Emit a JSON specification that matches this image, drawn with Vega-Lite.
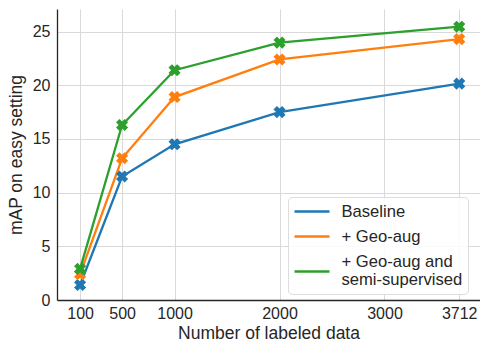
{
  "$schema": "https://vega.github.io/schema/vega-lite/v6.json",
  "width": 423,
  "height": 291,
  "autosize": {"type": "none"},
  "padding": {"left": 57, "top": 9, "right": 0, "bottom": 41},
  "background": "white",
  "config": {
    "font": "Liberation Sans",
    "view": {"stroke": null},
    "axis": {
      "gridColor": "#d9d9d9",
      "gridWidth": 1,
      "domainColor": "#262626",
      "domainWidth": 1.3,
      "ticks": false,
      "labelFontSize": 16,
      "labelColor": "#262626",
      "titleFontSize": 17.5,
      "titleFontWeight": "normal",
      "titleColor": "#262626"
    },
    "legend": {
      "orient": "none",
      "legendX": 231,
      "legendY": 188,
      "title": null,
      "strokeColor": "#dddddd",
      "fillColor": "rgba(255,255,255,0.85)",
      "cornerRadius": 4,
      "padding": 5,
      "labelFontSize": 16.6,
      "labelLineHeight": 19,
      "labelColor": "#262626",
      "symbolSize": 256,
      "symbolStrokeWidth": 2.5,
      "symbolOffset": 9.5,
      "labelOffset": 20,
      "rowPadding": 6
    }
  },
  "data": {
    "values": [
      {"n": 100, "map": 1.4, "method": "Baseline"},
      {"n": 500, "map": 11.5, "method": "Baseline"},
      {"n": 1000, "map": 14.5, "method": "Baseline"},
      {"n": 2000, "map": 17.5, "method": "Baseline"},
      {"n": 3712, "map": 20.15, "method": "Baseline"},
      {"n": 100, "map": 2.4, "method": "+ Geo-aug"},
      {"n": 500, "map": 13.2, "method": "+ Geo-aug"},
      {"n": 1000, "map": 18.9, "method": "+ Geo-aug"},
      {"n": 2000, "map": 22.4, "method": "+ Geo-aug"},
      {"n": 3712, "map": 24.3, "method": "+ Geo-aug"},
      {"n": 100, "map": 2.9, "method": "+ Geo-aug and semi-supervised"},
      {"n": 500, "map": 16.3, "method": "+ Geo-aug and semi-supervised"},
      {"n": 1000, "map": 21.4, "method": "+ Geo-aug and semi-supervised"},
      {"n": 2000, "map": 23.97, "method": "+ Geo-aug and semi-supervised"},
      {"n": 3712, "map": 25.45, "method": "+ Geo-aug and semi-supervised"}
    ]
  },
  "encoding": {
    "x": {
      "field": "n",
      "type": "quantitative",
      "scale": {"domain": [-120, 3910], "nice": false, "zero": false},
      "axis": {
        "values": [100, 500, 1000, 2000, 3000, 3712],
        "format": "d",
        "title": "Number of labeled data",
        "labelPadding": 5,
        "titlePadding": 3,
        "labelFlush": false
      }
    },
    "y": {
      "field": "map",
      "type": "quantitative",
      "scale": {"domain": [0, 27.1], "nice": false},
      "axis": {
        "values": [0, 5, 10, 15, 20, 25],
        "title": "mAP on easy setting",
        "labelPadding": 7,
        "titlePadding": 7
      }
    },
    "color": {
      "field": "method",
      "type": "nominal",
      "sort": ["Baseline", "+ Geo-aug", "+ Geo-aug and semi-supervised"],
      "scale": {
        "domain": ["Baseline", "+ Geo-aug", "+ Geo-aug and semi-supervised"],
        "range": ["#1f77b4", "#ff7f0e", "#2ca02c"]
      },
      "legend": {
        "labelExpr": "datum.label == '+ Geo-aug and semi-supervised' ? ['+ Geo-aug and', '\u00a0semi-supervised'] : datum.label",
        "symbolType": {"expr": "datum.value == '+ Geo-aug and semi-supervised' ? 'M-2.1875,1.25H2.1875' : 'M-2.1875,0H2.1875'"}
      }
    }
  },
  "layer": [
    {
      "mark": {"type": "line", "strokeWidth": 2.3}
    },
    {
      "mark": {"type": "point", "shape": "cross", "angle": 45, "filled": true, "size": 150, "opacity": 1},
      "encoding": {
        "color": {
          "field": "method",
          "type": "nominal",
          "legend": null,
          "scale": {
            "domain": ["Baseline", "+ Geo-aug", "+ Geo-aug and semi-supervised"],
            "range": ["#1f77b4", "#ff7f0e", "#2ca02c"]
          }
        }
      }
    }
  ]
}
